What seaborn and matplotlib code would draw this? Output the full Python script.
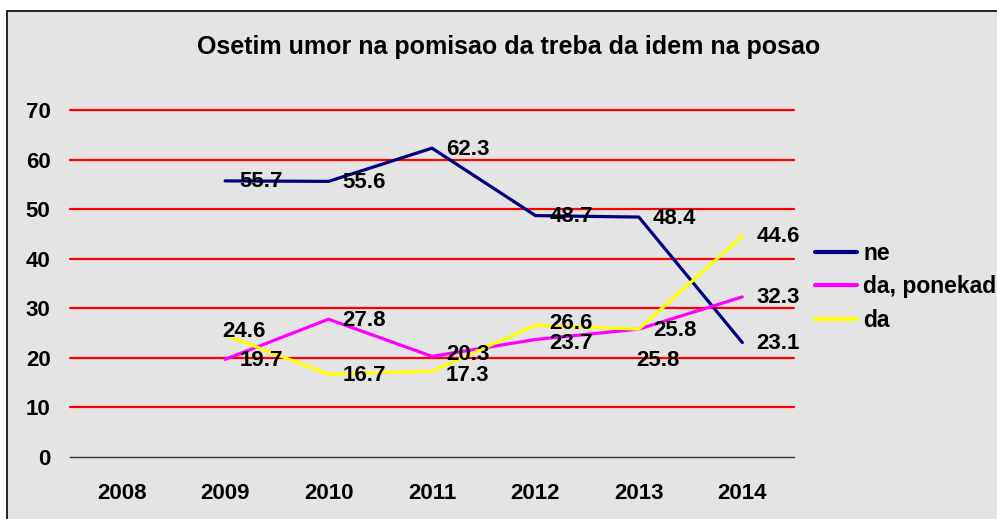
import matplotlib
matplotlib.use("Agg")
import matplotlib.pyplot as plt
import seaborn as sns
import pandas as pd
from matplotlib.patches import Rectangle

# ---- data ----
years = [2009, 2010, 2011, 2012, 2013, 2014]
all_years = [2008, 2009, 2010, 2011, 2012, 2013, 2014]
ne = [55.7, 55.6, 62.3, 48.7, 48.4, 23.1]
da_ponekad = [19.7, 27.8, 20.3, 23.7, 25.8, 32.3]
da = [24.6, 16.7, 17.3, 26.6, 25.8, 44.6]
series_names = ["ne", "da, ponekad", "da"]
series_colors = ["#000080", "#FF00FF", "#FFFF00"]
title = "Osetim umor na pomisao da treba da idem na posao"
y_ticks = [0, 10, 20, 30, 40, 50, 60, 70]

rows = []
for name, vals in zip(series_names, [ne, da_ponekad, da]):
    for yr, v in zip(years, vals):
        rows.append({"year": yr, "value": v, "series": name})
df = pd.DataFrame(rows)

sns.set_theme(style="white")
plt.rcParams["font.family"] = ["Liberation Sans", "DejaVu Sans"]
plt.rcParams["font.weight"] = "bold"
plt.rcParams["text.color"] = "black"
plt.rcParams["xtick.color"] = "black"
plt.rcParams["ytick.color"] = "black"

W, H = 997, 519
FS = 16
fig = plt.figure(figsize=(W / 100, H / 100), dpi=100, facecolor="white")

# background panel with border
bg = Rectangle((7 / W, -0.1), 1.2, 1.1 - 11 / H, transform=fig.transFigure,
               facecolor="#e4e4e4", edgecolor="black", linewidth=1.2, zorder=-10)
fig.patches.append(bg)

ax = fig.add_axes([70 / W, (H - 457) / H, (794 - 70) / W, (457 - 110) / H])
ax.set_facecolor("none")
ax.set_zorder(1)

sns.lineplot(data=df, x="year", y="value", hue="series", hue_order=series_names,
             palette=dict(zip(series_names, series_colors)), linewidth=2.3,
             ax=ax, legend=True, zorder=3)

ax.set_xlim(2007.5, 2014.5)
ax.set_ylim(0, 70)
ax.set_yticks(y_ticks)
ax.set_yticklabels([str(t) for t in y_ticks], fontsize=FS, fontweight="bold")
for t in y_ticks[1:]:
    ax.axhline(t, color="#FF0000", linewidth=1.6, zorder=1, clip_on=False)

ax.set_xticks(all_years)
ax.set_xticklabels([str(y) for y in all_years], fontsize=FS, fontweight="bold")
ax.set_xticks([y + 0.5 for y in [2007] + all_years], minor=True)
ax.tick_params(axis="x", which="major", length=0, pad=19)
ax.tick_params(axis="x", which="minor", length=5, width=1, color="#333333", direction="out")
ax.tick_params(axis="y", length=0, pad=14)
for s in ["top", "right", "left"]:
    ax.spines[s].set_visible(False)
ax.spines["bottom"].set_color("#333333")
ax.spines["bottom"].set_linewidth(1)
ax.set_xlabel("")
ax.set_ylabel("")

# data labels (pixel offsets from each point)
special = {("da", 2009): (-3, 4), ("da", 2013): (-3, -31),
           ("da", 2012): (14, 2), ("da, ponekad", 2012): (14, -4),
           ("da, ponekad", 2011): (14, 2), ("da", 2011): (14, -4)}
for name, vals in zip(series_names, [ne, da_ponekad, da]):
    for yr, v in zip(years, vals):
        dx, dy = special.get((name, yr), (14, -1))
        ax.annotate(f"{v:.1f}", (yr, v), xytext=(dx, dy), textcoords="offset pixels",
                    ha="left", va="center", fontsize=FS, fontweight="bold", color="black",
                    zorder=5)

fig.text(509 / W, 1 - 47 / H, title, ha="center", va="center",
         fontsize=18, fontweight="bold", color="black")

handles, labels = ax.get_legend_handles_labels()
ax.legend_.remove()
leg = fig.legend(handles, labels, loc="upper left", bbox_to_anchor=(815 / W, 1 - 242 / H),
                 frameon=False, fontsize=16.5, handlelength=1.85, handletextpad=0.25,
                 labelspacing=0.45, borderpad=0, borderaxespad=0)
for t in leg.get_texts():
    t.set_fontweight("bold")
    t.set_color("black")
for l in leg.get_lines():
    l.set_linewidth(3)

fig.savefig("out.png", dpi=100, facecolor="white")
